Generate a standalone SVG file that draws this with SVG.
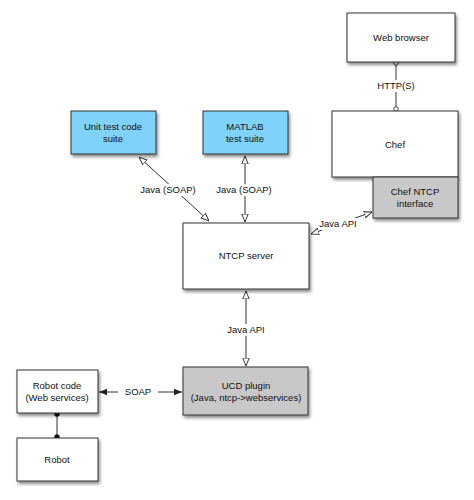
<svg xmlns="http://www.w3.org/2000/svg" width="474" height="500" viewBox="0 0 474 500">
<defs>
<filter id="sh" x="-10%" y="-10%" width="130%" height="140%">
<feDropShadow dx="1.5" dy="2.5" stdDeviation="1.5" flood-color="#000" flood-opacity="0.45"/>
</filter>
<marker id="open" viewBox="0 0 10 10" refX="10" refY="5" markerWidth="8" markerHeight="8" markerUnits="userSpaceOnUse" orient="auto-start-reverse">
<path d="M0,1 L10,5 L0,9 Z" fill="#fff" stroke="#333" stroke-width="1.2"/>
</marker>
<marker id="fill" viewBox="0 0 10 10" refX="10" refY="5" markerWidth="8" markerHeight="8" markerUnits="userSpaceOnUse" orient="auto-start-reverse">
<path d="M0,1 L10,5 L0,9 Z" fill="#222"/>
</marker>
<marker id="ocirc" viewBox="0 0 10 10" refX="5" refY="5" markerWidth="6" markerHeight="6" markerUnits="userSpaceOnUse">
<circle cx="5" cy="5" r="3.8" fill="#fff" stroke="#333" stroke-width="1.5"/>
</marker>
<marker id="dot" viewBox="0 0 10 10" refX="5" refY="5" markerWidth="6" markerHeight="6" markerUnits="userSpaceOnUse">
<circle cx="5" cy="5" r="4.5" fill="#111"/>
</marker>
</defs>
<style>
.box{stroke:#333;stroke-width:1;filter:url(#sh)}
.w{fill:#fff}
.b{fill:#7fd2fa}
.g{fill:#c8c8c8}
text{font-family:"Liberation Sans",Arial,sans-serif;font-size:9.5px;fill:#111;text-anchor:middle;dominant-baseline:middle}
.c{fill:none;stroke:#333;stroke-width:1}
.lbl{fill:#fff}
</style>
<rect width="474" height="500" fill="#fff"/>
<g id="connectors">
<line class="c" x1="396" y1="63" x2="396" y2="109" marker-start="url(#ocirc)" marker-end="url(#ocirc)"/>
<line class="c" x1="139" y1="157" x2="209" y2="221" marker-start="url(#open)" marker-end="url(#open)"/>
<line class="c" x1="245" y1="156" x2="245" y2="222" marker-start="url(#open)" marker-end="url(#open)"/>
<line class="c" x1="311" y1="234" x2="372" y2="212" marker-start="url(#open)" marker-end="url(#open)"/>
<line class="c" x1="246" y1="291" x2="246" y2="366" marker-start="url(#open)" marker-end="url(#open)"/>
<line class="c" x1="99" y1="392" x2="182" y2="392" marker-start="url(#fill)" marker-end="url(#fill)"/>
<line class="c" x1="57" y1="414" x2="57" y2="437" stroke-width="1.5" marker-start="url(#dot)" marker-end="url(#dot)"/>
<rect class="lbl" x="377" y="80" width="38" height="12"/>
<text x="396" y="86">HTTP(S)</text>
<rect class="lbl" x="140" y="184" width="56" height="12"/>
<text x="168" y="190">Java (SOAP)</text>
<rect class="lbl" x="216" y="184" width="57" height="12"/>
<text x="244" y="190">Java (SOAP)</text>
<rect class="lbl" x="319" y="218" width="38" height="12"/>
<text x="338" y="224">Java API</text>
<rect class="lbl" x="226" y="324" width="40" height="12"/>
<text x="246" y="330">Java API</text>
<rect class="lbl" x="118" y="386" width="40" height="12"/>
<text x="138" y="392">SOAP</text>
</g>
<g id="web-browser">
<rect class="box w" x="347" y="13" width="108" height="49"/>
<text x="401" y="38">Web browser</text>
</g>
<g id="chef">
<rect class="box w" x="332" y="111" width="126" height="66"/>
<text x="395" y="145">Chef</text>
</g>
<g id="chef-ntcp-interface">
<rect class="box g" x="373" y="177" width="85" height="41"/>
<text x="415" y="192">Chef NTCP</text>
<text x="415" y="204">interface</text>
</g>
<g id="unit-test">
<rect class="box b" x="71" y="111" width="85" height="43"/>
<text x="113" y="127">Unit test code</text>
<text x="113" y="139">suite</text>
</g>
<g id="matlab">
<rect class="box b" x="203" y="111" width="85" height="43"/>
<text x="245" y="127">MATLAB</text>
<text x="245" y="139">test suite</text>
</g>
<g id="ntcp-server">
<rect class="box w" x="183" y="223" width="126" height="66"/>
<text x="246" y="256">NTCP server</text>
</g>
<g id="ucd-plugin">
<rect class="box g" x="183" y="367" width="125" height="48"/>
<text x="246" y="386">UCD plugin</text>
<text x="246" y="398">(Java, ntcp-&gt;webservices)</text>
</g>
<g id="robot-code">
<rect class="box w" x="17" y="370" width="81" height="43"/>
<text x="57" y="386">Robot code</text>
<text x="57" y="398">(Web services)</text>
</g>
<g id="robot">
<rect class="box w" x="17" y="438" width="81" height="43"/>
<text x="57" y="460">Robot</text>
</g>
</svg>
